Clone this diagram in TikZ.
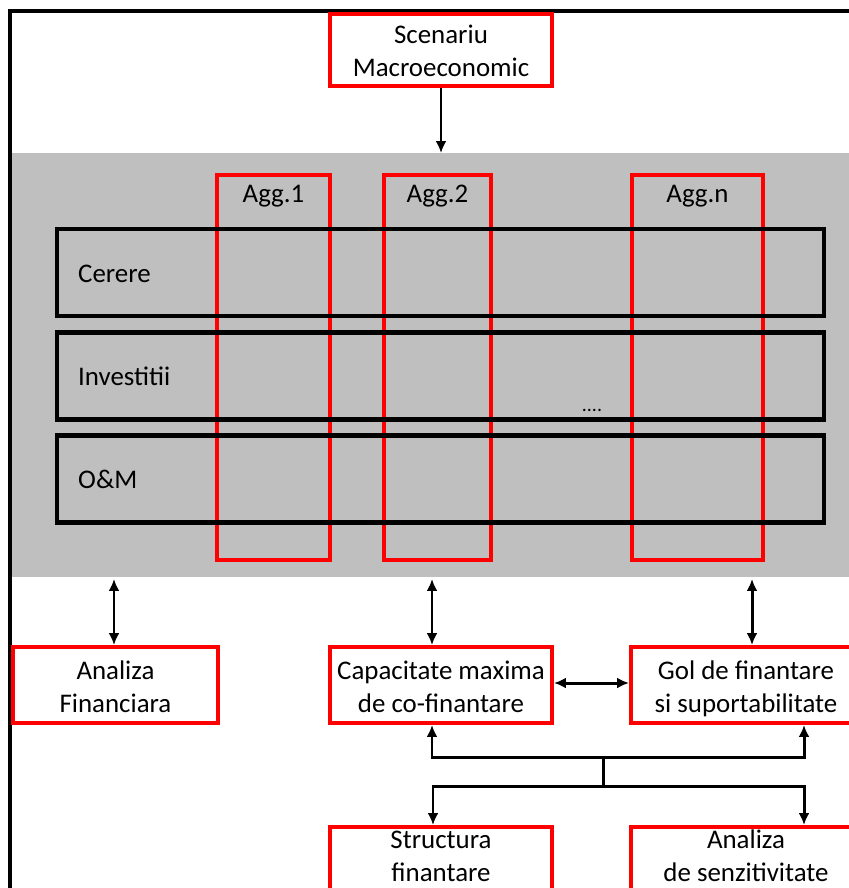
\documentclass[tikz,border=0pt]{standalone}
\usepackage{fontspec}
\setmainfont{Carlito}
\usetikzlibrary{arrows.meta}
\begin{document}
\begin{tikzpicture}[x=1bp,y=-1bp,
  txt/.style={font=\fontsize{27}{33}\selectfont, text=black},
  redbox/.style={draw=red, line width=4pt, fill=white, inner sep=0pt},
  aggbox/.style={draw=red, line width=4pt, inner sep=0pt},
  rowbox/.style={draw=black, line width=4.5pt, inner sep=0pt},
  conn/.style={draw=black, line width=3pt},
  tip/.style={-{Latex[length=12pt,width=11pt]}},
  dtip/.style={{Latex[length=12pt,width=11pt]}-{Latex[length=12pt,width=11pt]}}
]
\useasboundingbox (0,0) rectangle (849,888);
\fill[white] (-5,-5) rectangle (870,900);
% frame
\draw[line width=4pt] (10,900) -- (10,11) -- (870,11);
% gray band
\fill[fill={rgb,255:red,191;green,191;blue,191}] (12,153) rectangle (870,577);
% top box
\node[redbox, minimum width=222bp, minimum height=72bp,
  label={[txt, align=center, yshift=-3bp]center:Scenariu\strut\\Macroeconomic\strut}] (scen) at (441,50) {};
\coordinate (bandtop) at (441,153);
\draw[conn, tip] (scen.south) -- (bandtop);
% agg columns
\node[aggbox, minimum width=113bp, minimum height=385bp] (agg1) at (273.5,367.5) {};
\node[aggbox, minimum width=107bp, minimum height=385bp] (agg2) at (437.5,367.5) {};
\node[aggbox, minimum width=131bp, minimum height=385bp] (aggn) at (697.5,367.5) {};
\node[txt, anchor=base] (l1) at (273.5,202) {Agg.1};
\node[txt, anchor=base] (l2) at (437.5,202) {Agg.2};
\node[txt, anchor=base] (ln) at (697.5,202) {Agg.n};
% rows
\node[rowbox, minimum width=767bp, minimum height=87bp] (r1) at (440.5,272.5) {};
\node[rowbox, minimum width=767bp, minimum height=87bp] (r2) at (440.5,376) {};
\node[rowbox, minimum width=767bp, minimum height=87bp] (r3) at (440.5,479) {};
\node[txt, anchor=base west, inner sep=0pt] (t1) at (78,282) {Cerere};
\node[txt, anchor=base west, inner sep=0pt] (t2) at (78,385) {Investitii};
\node[txt, anchor=base west, inner sep=0pt] (t3) at (78,488) {O\&M};
\node[txt, font=\fontsize{20}{20}\selectfont, anchor=base, inner sep=0pt] (dots) at (592,411) {....};
% band bottom anchors
\coordinate (b1) at (114,579);
\coordinate (b2) at (432,579);
\coordinate (b3) at (752,579);
% middle boxes
\node[redbox, minimum width=205bp, minimum height=76bp,
  label={[txt, align=center, yshift=-4bp]center:Analiza\strut\\Financiara\strut}] (af) at (115.5,685) {};
\node[redbox, minimum width=222bp, minimum height=76bp,
  label={[txt, align=center, yshift=-4bp]center:Capacitate maxima\strut\\de co-finantare\strut}] (cap) at (441,685) {};
\node[redbox, minimum width=230bp, minimum height=76bp,
  label={[txt, align=center, yshift=-4bp]center:Gol de finantare\strut\\si suportabilitate\strut}] (gol) at (746,685) {};
\draw[conn, dtip] (b1) -- (b1 |- af.north);
\draw[conn, dtip] (b2) -- (b2 |- cap.north);
\draw[conn, dtip] (b3) -- (b3 |- gol.north);
\draw[conn, dtip] (cap.east |- 0,683) -- (gol.west |- 0,683);
% bottom boxes
\node[redbox, minimum width=222bp, minimum height=76bp,
  label={[txt, align=center, yshift=7bp]center:Structura\strut\\finantare\strut}] (str) at (441,865) {};
\node[redbox, minimum width=230bp, minimum height=76bp,
  label={[txt, align=center, yshift=7bp]center:Analiza\strut\\de senzitivitate\strut}] (sen) at (746,865) {};
% tree
\coordinate (ja) at (432,757);
\coordinate (jb) at (804,757);
\coordinate (jm) at (603,757);
\coordinate (jn) at (603,786);
\coordinate (jc) at (433,786);
\coordinate (jd) at (804,786);
\draw[conn, tip] (jm) -- (ja) -- (ja |- cap.south);
\draw[conn, tip] (jm) -- (jb) -- (jb |- gol.south);
\draw[conn] (jm) -- (jn);
\draw[conn, tip] (jn) -- (jc) -- (jc |- str.north);
\draw[conn, tip] (jn) -- (jd) -- (jd |- sen.north);
\end{tikzpicture}
\end{document}
